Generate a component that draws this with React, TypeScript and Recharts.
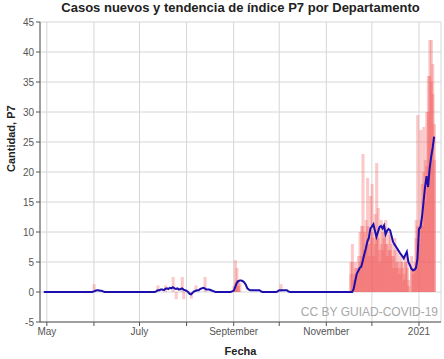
import { ComposedChart, Bar, Line, XAxis, YAxis, CartesianGrid } from 'recharts';

const DIA_MS = 86400000;
const PRIMER_DIA = Date.UTC(2020, 3, 27);
const N_DIAS = 264;
const INICIO_P7 = '2020-04-29';

const TICKS_MES = [
  '2020-05-01', '2020-06-01', '2020-07-01', '2020-08-01', '2020-09-01',
  '2020-10-01', '2020-11-01', '2020-12-01', '2021-01-01',
];
const ETIQUETAS_MES: Record<string, string> = {
  '2020-05-01': 'May',
  '2020-07-01': 'July',
  '2020-09-01': 'September',
  '2020-11-01': 'November',
  '2021-01-01': '2021',
};
const TICKS_Y = [-5, 0, 5, 10, 15, 20, 25, 30, 35, 40, 45];

// casos sueltos antes del brote de noviembre
const CASOS_A_SUELTOS: [string, number][] = [
  ['2020-06-01', 1.3],
  ['2020-07-13', 1.1],
  ['2020-07-18', 1.1],
  ['2020-07-23', 2.5],
  ['2020-07-25', -1.2],
  ['2020-07-29', 2.5],
  ['2020-07-30', -1.2],
  ['2020-08-04', -1.1],
  ['2020-08-07', 1.1],
  ['2020-08-13', 2.5],
  ['2020-09-01', 1.0],
  ['2020-09-02', 5.3],
  ['2020-09-03', 4.0],
  ['2020-09-04', 2.0],
  ['2020-09-05', 1.5],
  ['2020-10-02', 1.3],
];
const CASOS_B_SUELTOS: [string, number][] = [
  ['2020-09-02', 1.5],
  ['2020-09-03', 2.0],
  ['2020-09-04', 1.0],
];

// serie diaria desde el 16 de noviembre
const INICIO_BROTE = '2020-11-16';
const CASOS_A_BROTE = [
  0, 5, 8, 3, 5, 4, 6, 10, 11, 23, 10, 12, 19, 8, 16,
  18, 9, 13, 21.5, 14, 7, 12, 10, 11, 12, 8, 10, 9.5, 8, 6, 9, 5, 7, 4, 6, 5, 3, 6, 5, 2, 0, 6, 4, 5, 12, 29.5,
  11, 27, 18, 27.5, 22, 30, 36, 42, 42, 38, 28,
];
const CASOS_B_BROTE = [
  0, 3, 5, 2, 4, 3, 4, 5, 6, 11, 7, 8, 11, 6, 9,
  10, 6, 8, 10, 9, 5, 8, 7, 9, 8, 6, 7, 7, 6, 4, 7, 4, 5, 3, 5, 4, 2, 5, 4, 1, 0, 4, 3, 4, 9, 11,
  8, 12, 11, 20, 15, 21, 30, 36, 35, 33, 22,
];

// tramos del índice P7 distintos de cero
const P7_JUNIO: [string, number[]] = ['2020-06-01', [0.1, 0.2, 0.3, 0.3, 0.2, 0.2, 0.1]];
const P7_JULIO_AGOSTO: [string, number[]] = ['2020-07-12', [
  0.1, 0.3, 0.3, 0.4, 0.4, 0.3, 0.5, 0.6, 0.5, 0.7, 0.6, 0.8, 0.6, 0.5, 0.6, 0.4, 0.5, 0.6, 0.4, 0.3,
  0.2, 0.0, -0.3, -0.4, -0.1, 0.1, 0.2, 0.3, 0.3, 0.5, 0.6, 0.7, 0.6, 0.4, 0.4, 0.4, 0.3, 0.2, 0.1, 0,
]];
const P7_SEPTIEMBRE: [string, number[]] = ['2020-08-31', [
  0.1, 0.2, 0.8, 1.5, 1.8, 1.9, 1.9, 1.8, 1.6, 1.2, 0.6, 0.4, 0.3, 0.3, 0.3, 0.3, 0.3, 0.3, 0.3, 0.1, 0,
]];
const P7_OCTUBRE: [string, number[]] = ['2020-09-30', [0.1, 0.3, 0.3, 0.3, 0.3, 0.3, 0.3, 0.1]];
const P7_BROTE: [string, number[]] = ['2020-11-18', [
  0, 0.5, 1.8, 3.0, 3.5, 4.0, 4.2, 5.2, 6.3, 7.2, 8.4, 9.0, 10.6,
  10.9, 11.3, 10.2, 9.2, 10.0, 10.8, 11.0, 10.6, 11.1, 9.6, 10.2, 10.5, 10.3, 9.3, 8.3, 7.9, 7.5, 7.1,
  6.7, 6.3, 6.0, 5.6, 6.2, 6.7, 5.0, 4.5, 3.9, 3.6, 3.7, 4.0, 5.5,
  10.5, 10.8, 12.5, 15.0, 17.5, 19.3, 17.5, 20.5, 22.5, 24.0, 25.9,
]];

const fechaKey = (ms: number) => new Date(ms).toISOString().slice(0, 10);
const sumarDias = (key: string, n: number) => fechaKey(Date.parse(key + 'T00:00:00Z') + n * DIA_MS);

function armarDatos() {
  const fechas: string[] = [];
  for (let i = 0; i < N_DIAS; i++) fechas.push(fechaKey(PRIMER_DIA + i * DIA_MS));
  const finP7 = sumarDias(P7_BROTE[0], P7_BROTE[1].length - 1);

  const casosA = new Map<string, number>(CASOS_A_SUELTOS);
  const casosB = new Map<string, number>(CASOS_B_SUELTOS);
  CASOS_A_BROTE.forEach((v, i) => casosA.set(sumarDias(INICIO_BROTE, i), v));
  CASOS_B_BROTE.forEach((v, i) => casosB.set(sumarDias(INICIO_BROTE, i), v));

  const p7 = new Map<string, number>();
  for (const [desde, valores] of [P7_JUNIO, P7_JULIO_AGOSTO, P7_SEPTIEMBRE, P7_OCTUBRE, P7_BROTE]) {
    valores.forEach((v, i) => p7.set(sumarDias(desde, i), v));
  }

  return fechas.map((fecha) => ({
    fecha,
    casosA: casosA.get(fecha) ?? null,
    casosB: casosB.get(fecha) ?? null,
    p7: fecha >= INICIO_P7 && fecha <= finP7 ? p7.get(fecha) ?? 0 : null,
  }));
}

const data = armarDatos();
const FUENTE = '"Liberation Sans", Arial, sans-serif';
const ANCHO_BARRA = 3;

// barra un poco más ancha que la banda diaria, centrada en la fecha
function BarraAncha(props: any) {
  const { x, y, width, height } = props;
  if (x == null || y == null || !height) return null;
  const cx = x + width / 2;
  const top = Math.min(y, y + height);
  return (
    <rect x={cx - ANCHO_BARRA / 2} y={top} width={ANCHO_BARRA} height={Math.abs(height)} fill="#f45a5a" fillOpacity={0.33} />
  );
}

export default function App() {
  return (
    <div style={{ position: 'absolute', left: 0, top: 0, width: 444, height: 359, fontFamily: FUENTE, background: '#fff' }}>
      <div style={{ position: 'absolute', left: 40, top: 0, width: 401, textAlign: 'center', fontSize: 13, fontWeight: 'bold', color: '#222' }}>
        Casos nuevos y tendencia de índice P7 por Departamento
      </div>
      <ComposedChart
        width={444}
        height={359}
        data={data}
        margin={{ top: 22, right: 3, bottom: 0, left: 0 }}
        barCategoryGap={0}
      >
        <CartesianGrid stroke="#d6d6d6" strokeWidth={1} />
        <XAxis
          dataKey="fecha"
          ticks={TICKS_MES}
          interval={0}
          tickFormatter={(v: string) => ETIQUETAS_MES[v] ?? ''}
          tick={{ fontSize: 10, fill: '#555' }}
          tickSize={4}
          stroke="#555"
          height={37}
          label={{ value: 'Fecha', position: 'insideBottom', offset: 4, fontSize: 11, fontWeight: 'bold', fill: '#222' }}
        />
        <XAxis xAxisId="b" dataKey="fecha" hide />
        <YAxis
          domain={[-5, 45]}
          ticks={TICKS_Y}
          interval={0}
          tick={{ fontSize: 10, fill: '#555' }}
          tickSize={4}
          stroke="#555"
          width={40}
          label={{ value: 'Cantidad, P7', angle: -90, position: 'insideLeft', offset: 11, fontSize: 11, fontWeight: 'bold', fill: '#222' }}
        />
        <Bar dataKey="casosA" shape={BarraAncha} isAnimationActive={false} />
        <Bar dataKey="casosB" xAxisId="b" shape={BarraAncha} isAnimationActive={false} />
        <Line
          dataKey="p7"
          type="linear"
          stroke="#1c0fae"
          strokeWidth={2}
          dot={false}
          isAnimationActive={false}
        />
      </ComposedChart>
      <div style={{ position: 'absolute', right: 6, top: 305, fontSize: 12, color: '#a8a8a8' }}>
        CC BY GUIAD-COVID-19
      </div>
    </div>
  );
}
